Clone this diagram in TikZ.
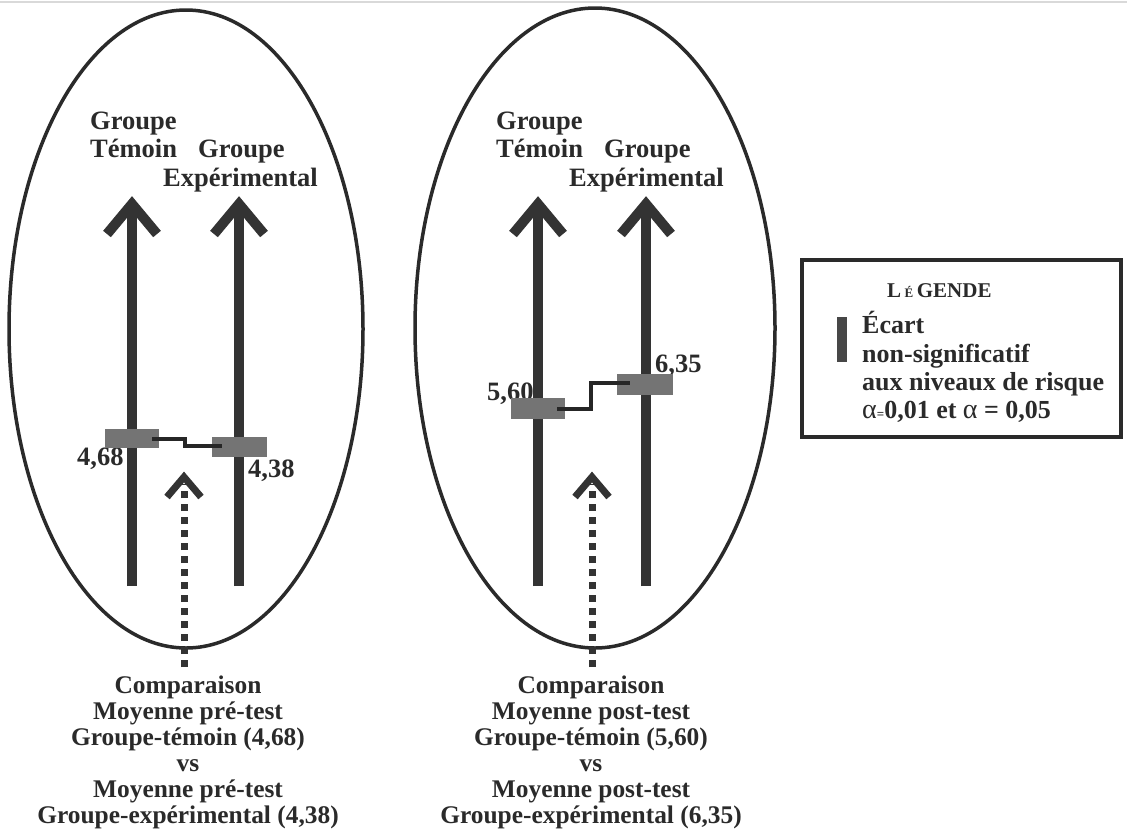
\documentclass[tikz,border=0pt]{standalone}
\usepackage{fontspec}
\setmainfont{Liberation Serif}
\usetikzlibrary{shapes.geometric}
\newcommand\myfs[2]{\fontsize{#1pt}{#2pt}\selectfont}
\definecolor{ink}{HTML}{2A2A2A}
\definecolor{barc}{HTML}{333333}
\definecolor{meanc}{HTML}{747474}
\tikzset{
  oval/.style={ellipse, draw=ink, line width=3.5pt, inner sep=0pt, outer sep=0pt},
  shaft/.style={draw=barc, line width=10pt, line cap=butt},
  chev/.style={draw=barc, line width=10pt, line cap=butt, line join=miter},
  dshaft/.style={draw=barc, line width=7pt, dash pattern=on 7pt off 6pt},
  dchev/.style={draw=barc, line width=7pt, line cap=butt, line join=miter},
  meanbox/.style={fill=meanc, draw=none},
  link/.style={draw=black!85, line width=4pt},
  toplbl/.style={anchor=base west, inner sep=0pt, text=ink, font=\myfs{26.5}{29}\bfseries},
  numlbl/.style={anchor=base west, inner sep=0pt, text=ink, font=\myfs{26.5}{29}\bfseries},
  botlbl/.style={anchor=base, inner sep=0pt, text=ink, font=\myfs{25.4}{26}\bfseries},
  leglbl/.style={anchor=base west, inner sep=0pt, text=ink, font=\myfs{26}{28}\bfseries}
}
\begin{document}
\begin{tikzpicture}[x=1pt, y=-1pt]
\useasboundingbox (0,0) rectangle (1127,831);
\fill[white] (0,0) rectangle (1127,831);
\draw[black!15, line width=1.5pt] (0,2) -- (1127,2);

% ellipses
\node[oval, minimum width=354pt, minimum height=638pt] (e1) at (186,329) {};
\node[oval, minimum width=360pt, minimum height=640pt] (e2) at (595,328) {};

% top labels
\node[toplbl] (g1a) at (90,129) {Groupe};
\node[toplbl] (g1b) at (90,157) {Témoin};
\node[toplbl] (g1c) at (198,157) {Groupe};
\node[toplbl] (g1d) at (163,186) {Expérimental};
\node[toplbl] (g2a) at (496,129) {Groupe};
\node[toplbl] (g2b) at (496,157) {Témoin};
\node[toplbl] (g2c) at (604,157) {Groupe};
\node[toplbl] (g2d) at (569,186) {Expérimental};

% value labels (behind bars)
\node[numlbl] (v1) at (77,465) {4,68};
\node[numlbl] (v2) at (248,477) {4,38};
\node[numlbl] (v3) at (487,400) {5,60};
\node[numlbl] (v4) at (655,372) {6,35};

% vertical arrows
\foreach \x in {132,239,538,646}{
  \draw[shaft] (\x,586) -- (\x,204);
  \draw[chev] (\x-25,234) -- (\x,204) -- (\x+25,234);
}

% dashed comparison arrows
\foreach \x in {184,592}{
  \draw[dshaft] (\x,667) -- (\x,484);
  \draw[dchev] (\x-17,497) -- (\x,477) -- (\x+17,497);
}

% mean boxes
\fill[meanbox] (105,429) rectangle (159,448);
\fill[meanbox] (212,437) rectangle (267,457);
\fill[meanbox] (511,398) rectangle (565,419);
\fill[meanbox] (617,374) rectangle (673,395);

% links
\draw[link] (152,439) -- (185,439) -- (185,446) -- (222,446);
\draw[link] (557,409) -- (591,409) -- (591,383) -- (630,383);

% bottom texts
\foreach \t [count=\i] in {Comparaison, Moyenne pré-test, {Groupe-témoin (4,68)}, vs, Moyenne pré-test, {Groupe-expérimental (4,38)}}{
  \node[botlbl] (b1\i) at (188,{693+26*(\i-1)}) {\t};
}
\foreach \t [count=\i] in {Comparaison, Moyenne post-test, {Groupe-témoin (5,60)}, vs, Moyenne post-test, {Groupe-expérimental (6,35)}}{
  \node[botlbl] (b2\i) at (591,{693+26*(\i-1)}) {\t};
}

% legend
\node[draw=ink, line width=4pt, minimum width=319pt, minimum height=177pt, inner sep=0pt] (leg) at (961.5,348.5) {};
\node[anchor=base west, inner sep=0pt, text=ink] (legt) at (887,297)
  {\bfseries\myfs{21}{24}L\,{\myfs{13}{14}É}\,GENDE};
\fill[barc!90!white] (837,317) rectangle (847,362);
\node[leglbl] (l1) at (862,333) {Écart};
\node[leglbl] (l2) at (862,362) {non-significatif};
\node[leglbl] (l3) at (862,390) {aux niveaux de risque};
\node[leglbl] (l4) at (862,418) {{\mdseries\myfs{28}{28}α}{\myfs{13}{14}=}0,01 et {\mdseries\myfs{28}{28}α} = 0,05};
\end{tikzpicture}
\end{document}
